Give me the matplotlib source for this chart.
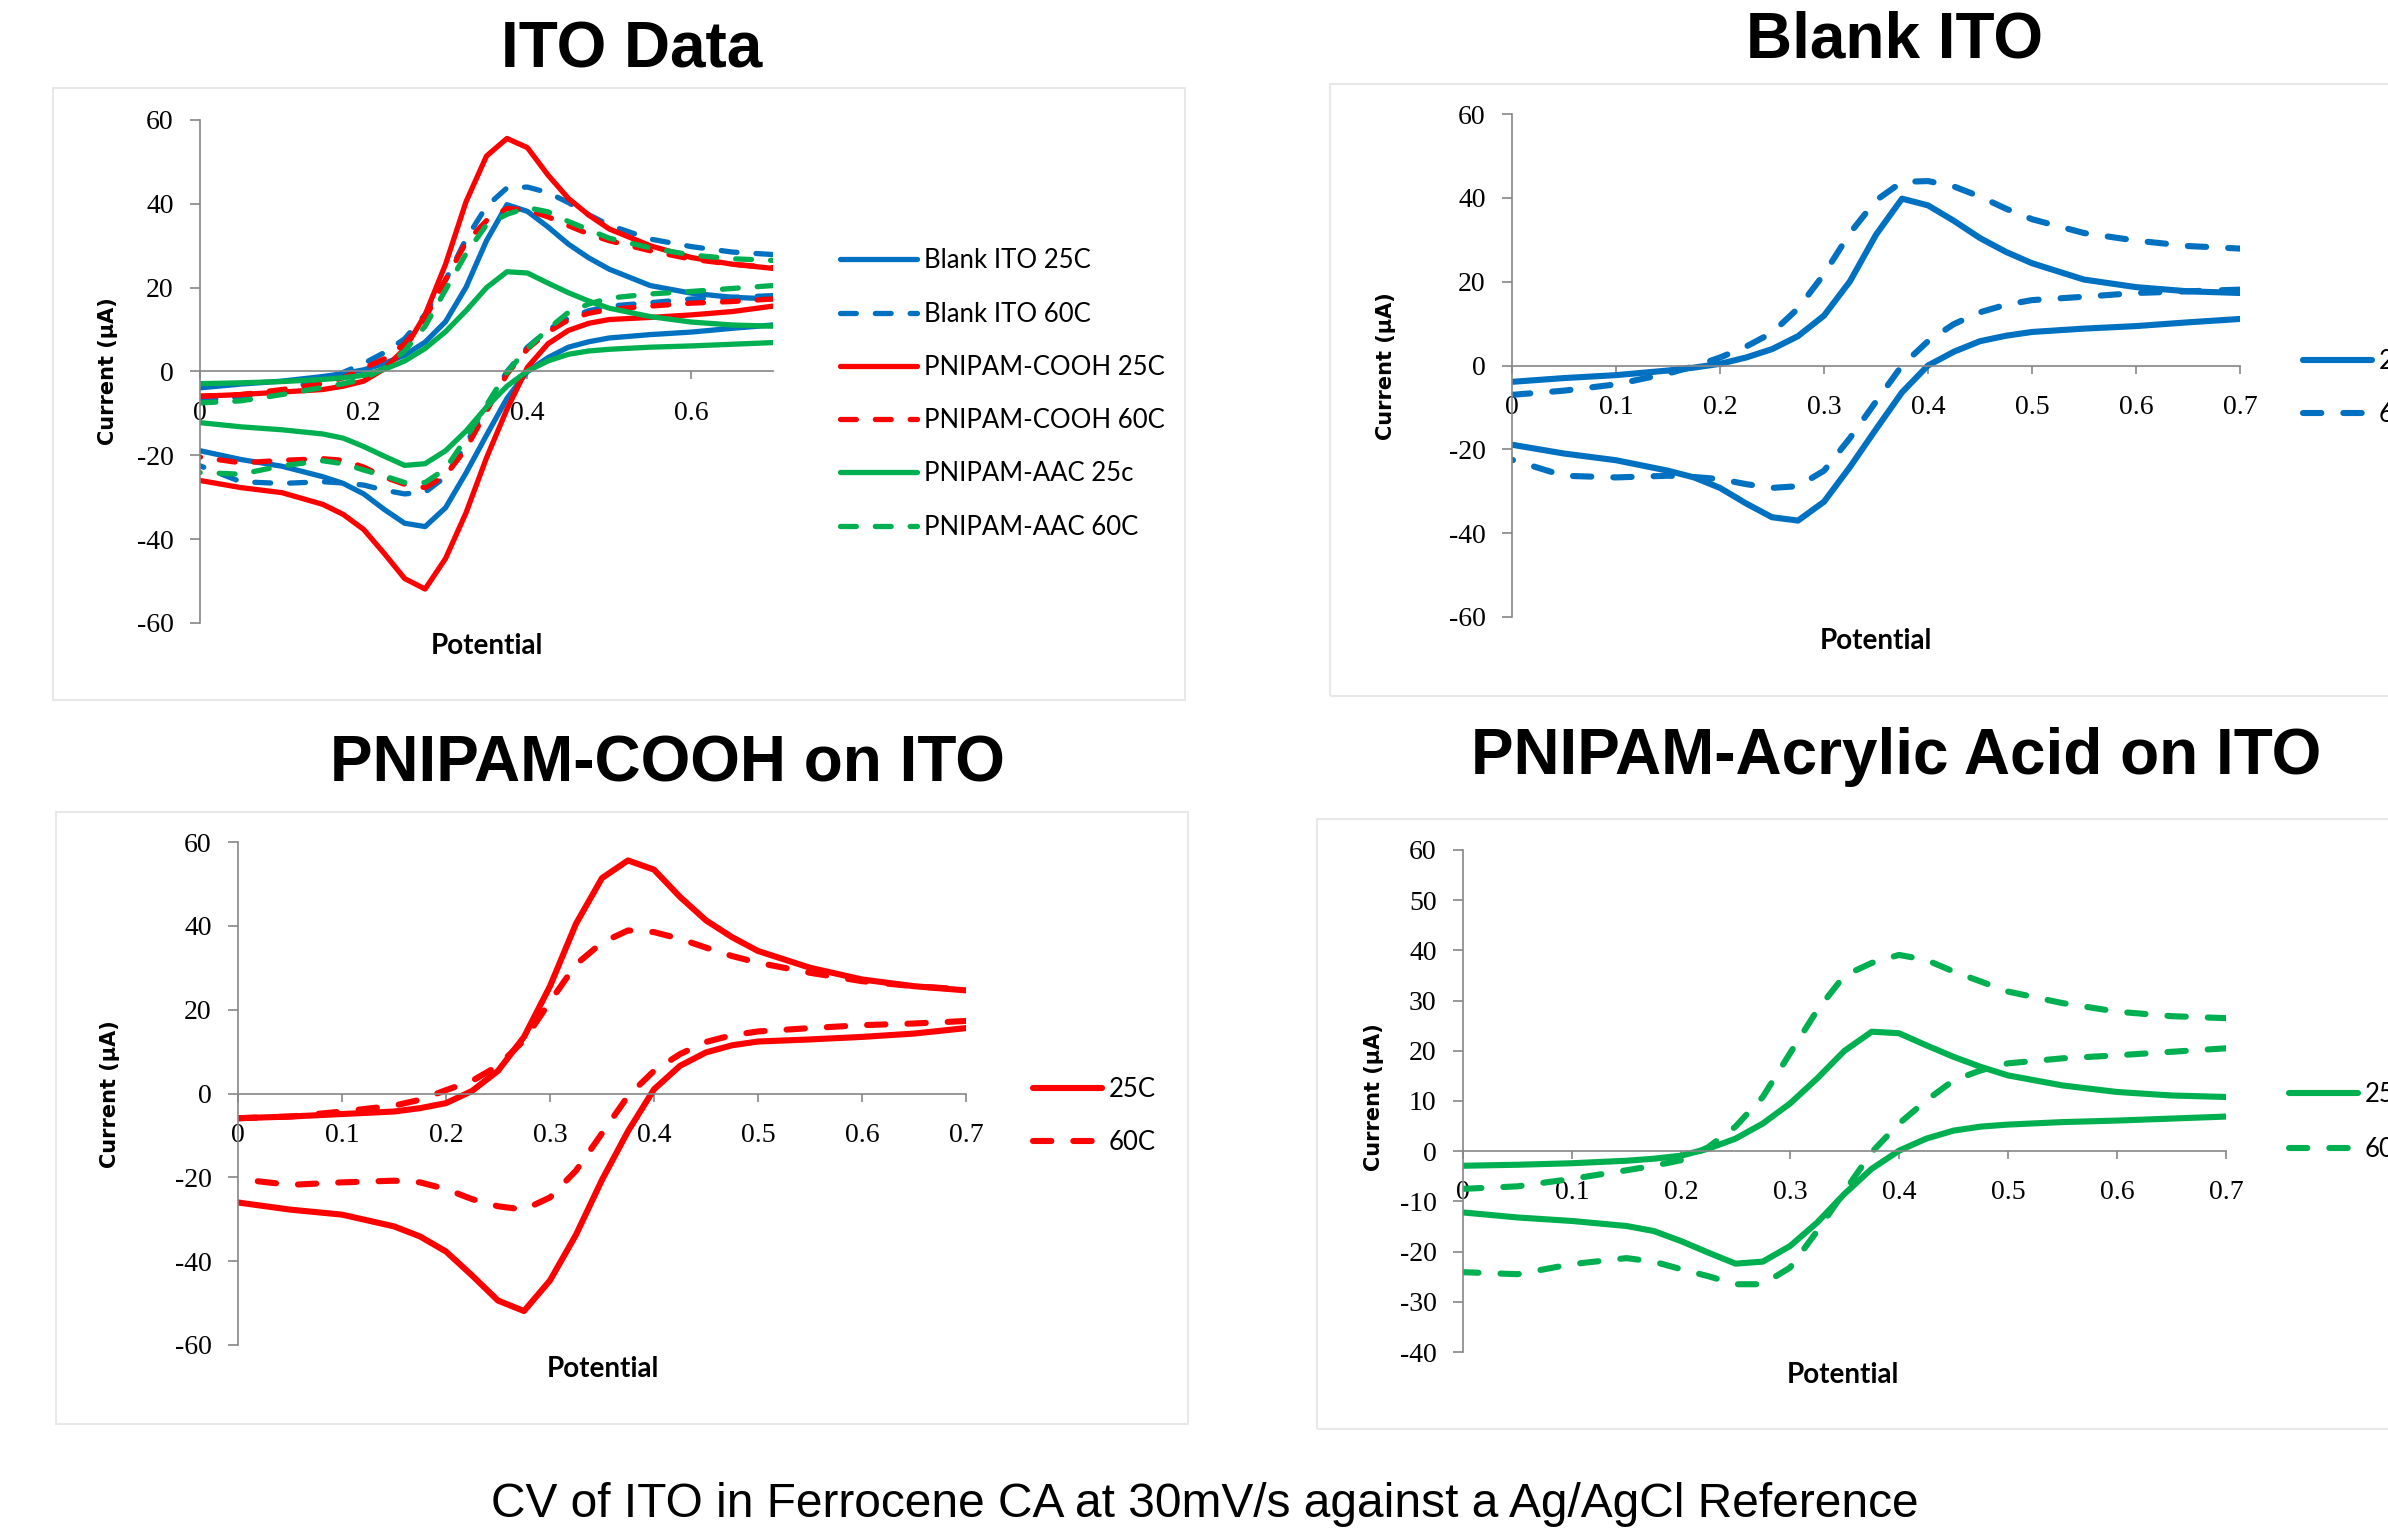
import numpy as np
import matplotlib.pyplot as plt
from matplotlib.patches import Rectangle

potential = [0, 0.05, 0.1, 0.15, 0.175, 0.2, 0.225, 0.25, 0.275, 0.3, 0.325, 0.35,
             0.375, 0.4, 0.425, 0.45, 0.475, 0.5, 0.55, 0.6, 0.65, 0.7]

# current (uA): *_fwd is the upper (anodic) branch, *_rev the lower (return) branch
blank_25_fwd = [-3.9, -3.0, -2.3, -1.2, -0.5, 0.4, 1.9, 3.9, 7.0, 11.9, 20.1, 31.2,
                39.8, 38.2, 34.5, 30.4, 27.1, 24.4, 20.5, 18.7, 17.7, 17.3]
blank_25_rev = [-18.9, -21.0, -22.6, -25.1, -26.7, -29.2, -32.9, -36.2, -37.0, -32.5, -24.2, -15.2,
                -6.4, 0.0, 3.3, 5.8, 7.1, 8.0, 8.8, 9.4, 10.3, 11.1]
blank_60_fwd = [-7.0, -6.0, -4.5, -1.9, -0.2, 1.9, 4.5, 7.8, 13.6, 21.8, 31.6, 39.4,
                43.8, 44.0, 42.7, 40.3, 37.4, 34.9, 31.6, 29.8, 28.5, 27.9]
blank_60_rev = [-22.5, -26.3, -26.7, -26.3, -26.6, -27.1, -28.3, -29.2, -28.8, -25.1, -17.3, -8.6,
                0.0, 5.8, 9.9, 12.7, 14.5, 15.6, 16.4, 17.3, 17.7, 18.1]

cooh_25_fwd = [-5.9, -5.5, -4.9, -4.3, -3.5, -2.3, 0.6, 5.4, 13.5, 25.6, 40.5, 51.4,
               55.6, 53.4, 46.9, 41.3, 37.3, 34.0, 30.0, 27.2, 25.6, 24.6]
cooh_25_rev = [-26.0, -27.7, -28.9, -31.7, -34.1, -37.7, -43.4, -49.4, -51.9, -44.6, -33.7, -20.6,
               -9.0, 1.0, 6.6, 9.8, 11.5, 12.4, 12.9, 13.5, 14.3, 15.6]
cooh_60_fwd = [-5.9, -5.5, -4.3, -2.9, -1.5, 0.8, 3.0, 6.6, 12.7, 21.9, 30.8, 36.0,
               38.9, 38.5, 36.9, 34.8, 32.8, 31.2, 28.8, 26.8, 25.6, 24.8]
cooh_60_rev = [-20.4, -21.8, -21.2, -20.8, -21.2, -22.8, -25.2, -26.9, -27.7, -24.8, -18.4, -9.5,
               -0.6, 5.4, 9.4, 12.3, 13.9, 14.8, 15.6, 16.3, 16.7, 17.3]

aac_25_fwd = [-2.9, -2.7, -2.4, -1.9, -1.5, -0.9, 0.5, 2.5, 5.5, 9.5, 14.5, 20.0,
              23.8, 23.5, 21.1, 18.8, 16.8, 15.1, 13.1, 11.8, 11.1, 10.8]
aac_25_rev = [-12.2, -13.2, -13.9, -14.9, -15.9, -17.9, -20.2, -22.4, -22.0, -18.9, -14.2, -8.5,
              -3.5, 0.1, 2.5, 4.1, 4.9, 5.3, 5.8, 6.1, 6.5, 6.9]
aac_60_fwd = [-7.5, -7.0, -5.5, -3.8, -2.9, -1.8, 0.8, 4.9, 10.8, 19.5, 28.1, 35.0,
              37.5, 39.1, 38.1, 35.8, 33.8, 31.8, 29.5, 27.8, 26.9, 26.5]
aac_60_rev = [-24.1, -24.5, -22.5, -21.3, -22.0, -23.5, -24.9, -26.5, -26.5, -23.2, -15.9, -8.0,
              -0.2, 5.5, 10.1, 14.1, 16.1, 17.5, 18.5, 19.1, 19.8, 20.5]

# tick labels
xticks_wide = [0, 0.2, 0.4, 0.6]
xticklabels_wide = ['0', '0.2', '0.4', '0.6']
xticks_fine = [0, 0.1, 0.2, 0.3, 0.4, 0.5, 0.6, 0.7]
xticklabels_fine = ['0', '0.1', '0.2', '0.3', '0.4', '0.5', '0.6', '0.7']
yticks_60 = [-60, -40, -20, 0, 20, 40, 60]
yticks_aac = [-40, -30, -20, -10, 0, 10, 20, 30, 40, 50, 60]

titles = ['ITO Data', 'Blank ITO', 'PNIPAM-COOH on ITO', 'PNIPAM-Acrylic Acid on ITO']
caption = 'CV of ITO in Ferrocene CA at 30mV/s against a Ag/AgCl Reference'

BLUE, RED, GREEN = '#0070C0', '#FF0000', '#00B050'
AXIS_GREY = '#868686'

W, H = 2388, 1537


def fx(px):
    return px / W


def fy(px):
    return 1 - px / H


def box(left, top, right, bottom):
    return [fx(left), fy(bottom), (right - left) / W, (bottom - top) / H]


def draw_curves(ax, series, lw):
    x = np.r_[potential, np.nan, potential[::-1]]
    for label, fwd, rev, color, dashed in series:
        y = np.r_[fwd, np.nan, rev[::-1]]
        ls = (0, (3.0, 3.6)) if dashed else '-'
        ax.plot(x, y, color=color, lw=lw, ls=ls, label=label,
                solid_capstyle='round', dash_capstyle='round',
                solid_joinstyle='round', dash_joinstyle='round')


def style_axes(ax, ylim, yticks, xticks, xticklabels):
    ax.set_xlim(0, 0.7)
    ax.set_ylim(*ylim)
    for s in ['top', 'right']:
        ax.spines[s].set_visible(False)
    ax.spines['bottom'].set_position(('data', 0))
    for s in ['left', 'bottom']:
        ax.spines[s].set_color(AXIS_GREY)
        ax.spines[s].set_linewidth(1.2)
    ax.set_xticks(xticks)
    ax.set_xticklabels(xticklabels)
    ax.set_yticks(yticks)
    ax.set_yticklabels([str(v) for v in yticks])
    ax.tick_params(axis='x', direction='out', length=6, width=1.2, color=AXIS_GREY, pad=15)
    ax.tick_params(axis='y', direction='out', length=7, width=1.2, color=AXIS_GREY, pad=12)
    for t in ax.get_xticklabels() + ax.get_yticklabels():
        t.set_family('Liberation Serif')
        t.set_fontsize(20)
    ax.patch.set_alpha(0)


fig = plt.figure(figsize=(W / 100, H / 100), dpi=100)

# faint frames around the four chart images
for left, top, right, bottom in [(53, 88, 1185, 700), (1330, 84, 2400, 696),
                                 (56, 812, 1188, 1424), (1317, 819, 2400, 1429)]:
    fig.patches.append(Rectangle((fx(left), fy(bottom)), (right - left) / W, (bottom - top) / H,
                                 transform=fig.transFigure, facecolor='none',
                                 edgecolor='#e8e8e8', lw=1.5, zorder=-10))

panels = [
    dict(box=box(200, 120, 773, 623), ylim=(-60, 60), yticks=yticks_60,
         xticks=xticks_wide, xtl=xticklabels_wide, lw=3.8, ls_gap=1.1,
         series=[('Blank ITO 25C', blank_25_fwd, blank_25_rev, BLUE, False),
                 ('Blank ITO 60C', blank_60_fwd, blank_60_rev, BLUE, True),
                 ('PNIPAM-COOH 25C', cooh_25_fwd, cooh_25_rev, RED, False),
                 ('PNIPAM-COOH 60C', cooh_60_fwd, cooh_60_rev, RED, True),
                 ('PNIPAM-AAC 25c', aac_25_fwd, aac_25_rev, GREEN, False),
                 ('PNIPAM-AAC 60C', aac_60_fwd, aac_60_rev, GREEN, True)],
         leg=(840, 394), hl=3.0, title=(632, 68), ylab=(108, 371), xlab=(487, 646)),
    dict(box=box(1512, 114, 2240, 617), ylim=(-60, 60), yticks=yticks_60,
         xticks=xticks_fine, xtl=xticklabels_fine, lw=4.4, ls_gap=1.1,
         series=[('25C', blank_25_fwd, blank_25_rev, BLUE, False),
                 ('60C', blank_60_fwd, blank_60_rev, BLUE, True)],
         leg=(2303, 388), hl=2.7, title=(1895, 58), ylab=(1386, 366), xlab=(1876, 641)),
    dict(box=box(238, 842, 966, 1345), ylim=(-60, 60), yticks=yticks_60,
         xticks=xticks_fine, xtl=xticklabels_fine, lw=4.4, ls_gap=1.1,
         series=[('25C', cooh_25_fwd, cooh_25_rev, RED, False),
                 ('60C', cooh_60_fwd, cooh_60_rev, RED, True)],
         leg=(1033, 1116), hl=2.7, title=(667, 781), ylab=(110, 1094), xlab=(603, 1369)),
    dict(box=box(1463, 850, 2226, 1352), ylim=(-40, 60), yticks=yticks_aac,
         xticks=xticks_fine, xtl=xticklabels_fine, lw=4.4, ls_gap=1.2,
         series=[('25C', aac_25_fwd, aac_25_rev, GREEN, False),
                 ('60C', aac_60_fwd, aac_60_rev, GREEN, True)],
         leg=(2289, 1122), hl=2.7, title=(1896, 774), ylab=(1374, 1097), xlab=(1843, 1375)),
]

for p, title in zip(panels, titles):
    ax = fig.add_axes(p['box'])
    draw_curves(ax, p['series'], p['lw'])
    style_axes(ax, p['ylim'], p['yticks'], p['xticks'], p['xtl'])
    ax.legend(loc='center left', bbox_to_anchor=(fx(p['leg'][0]), fy(p['leg'][1])),
              bbox_transform=fig.transFigure, frameon=False, borderpad=0, borderaxespad=0,
              handlelength=p['hl'], handletextpad=0.25, labelspacing=p['ls_gap'],
              prop={'family': 'Lato', 'size': 18.5})
    fig.text(fx(p['title'][0]), fy(p['title'][1]), title, ha='center', va='baseline',
             fontsize=46, fontweight='bold', family='Liberation Sans')
    fig.text(fx(p['ylab'][0]), fy(p['ylab'][1]), 'Current (µA)', rotation=90,
             ha='center', va='center', fontsize=15, fontweight='bold', family='DejaVu Sans')
    fig.text(fx(p['xlab'][0]), fy(p['xlab'][1]), 'Potential', ha='center', va='center',
             fontsize=20, fontweight='bold', family='Lato')

fig.text(fx(1205), fy(1517), caption, ha='center', va='baseline', fontsize=34.5,
         family='Liberation Sans')

fig.savefig('out.png', dpi=100)
